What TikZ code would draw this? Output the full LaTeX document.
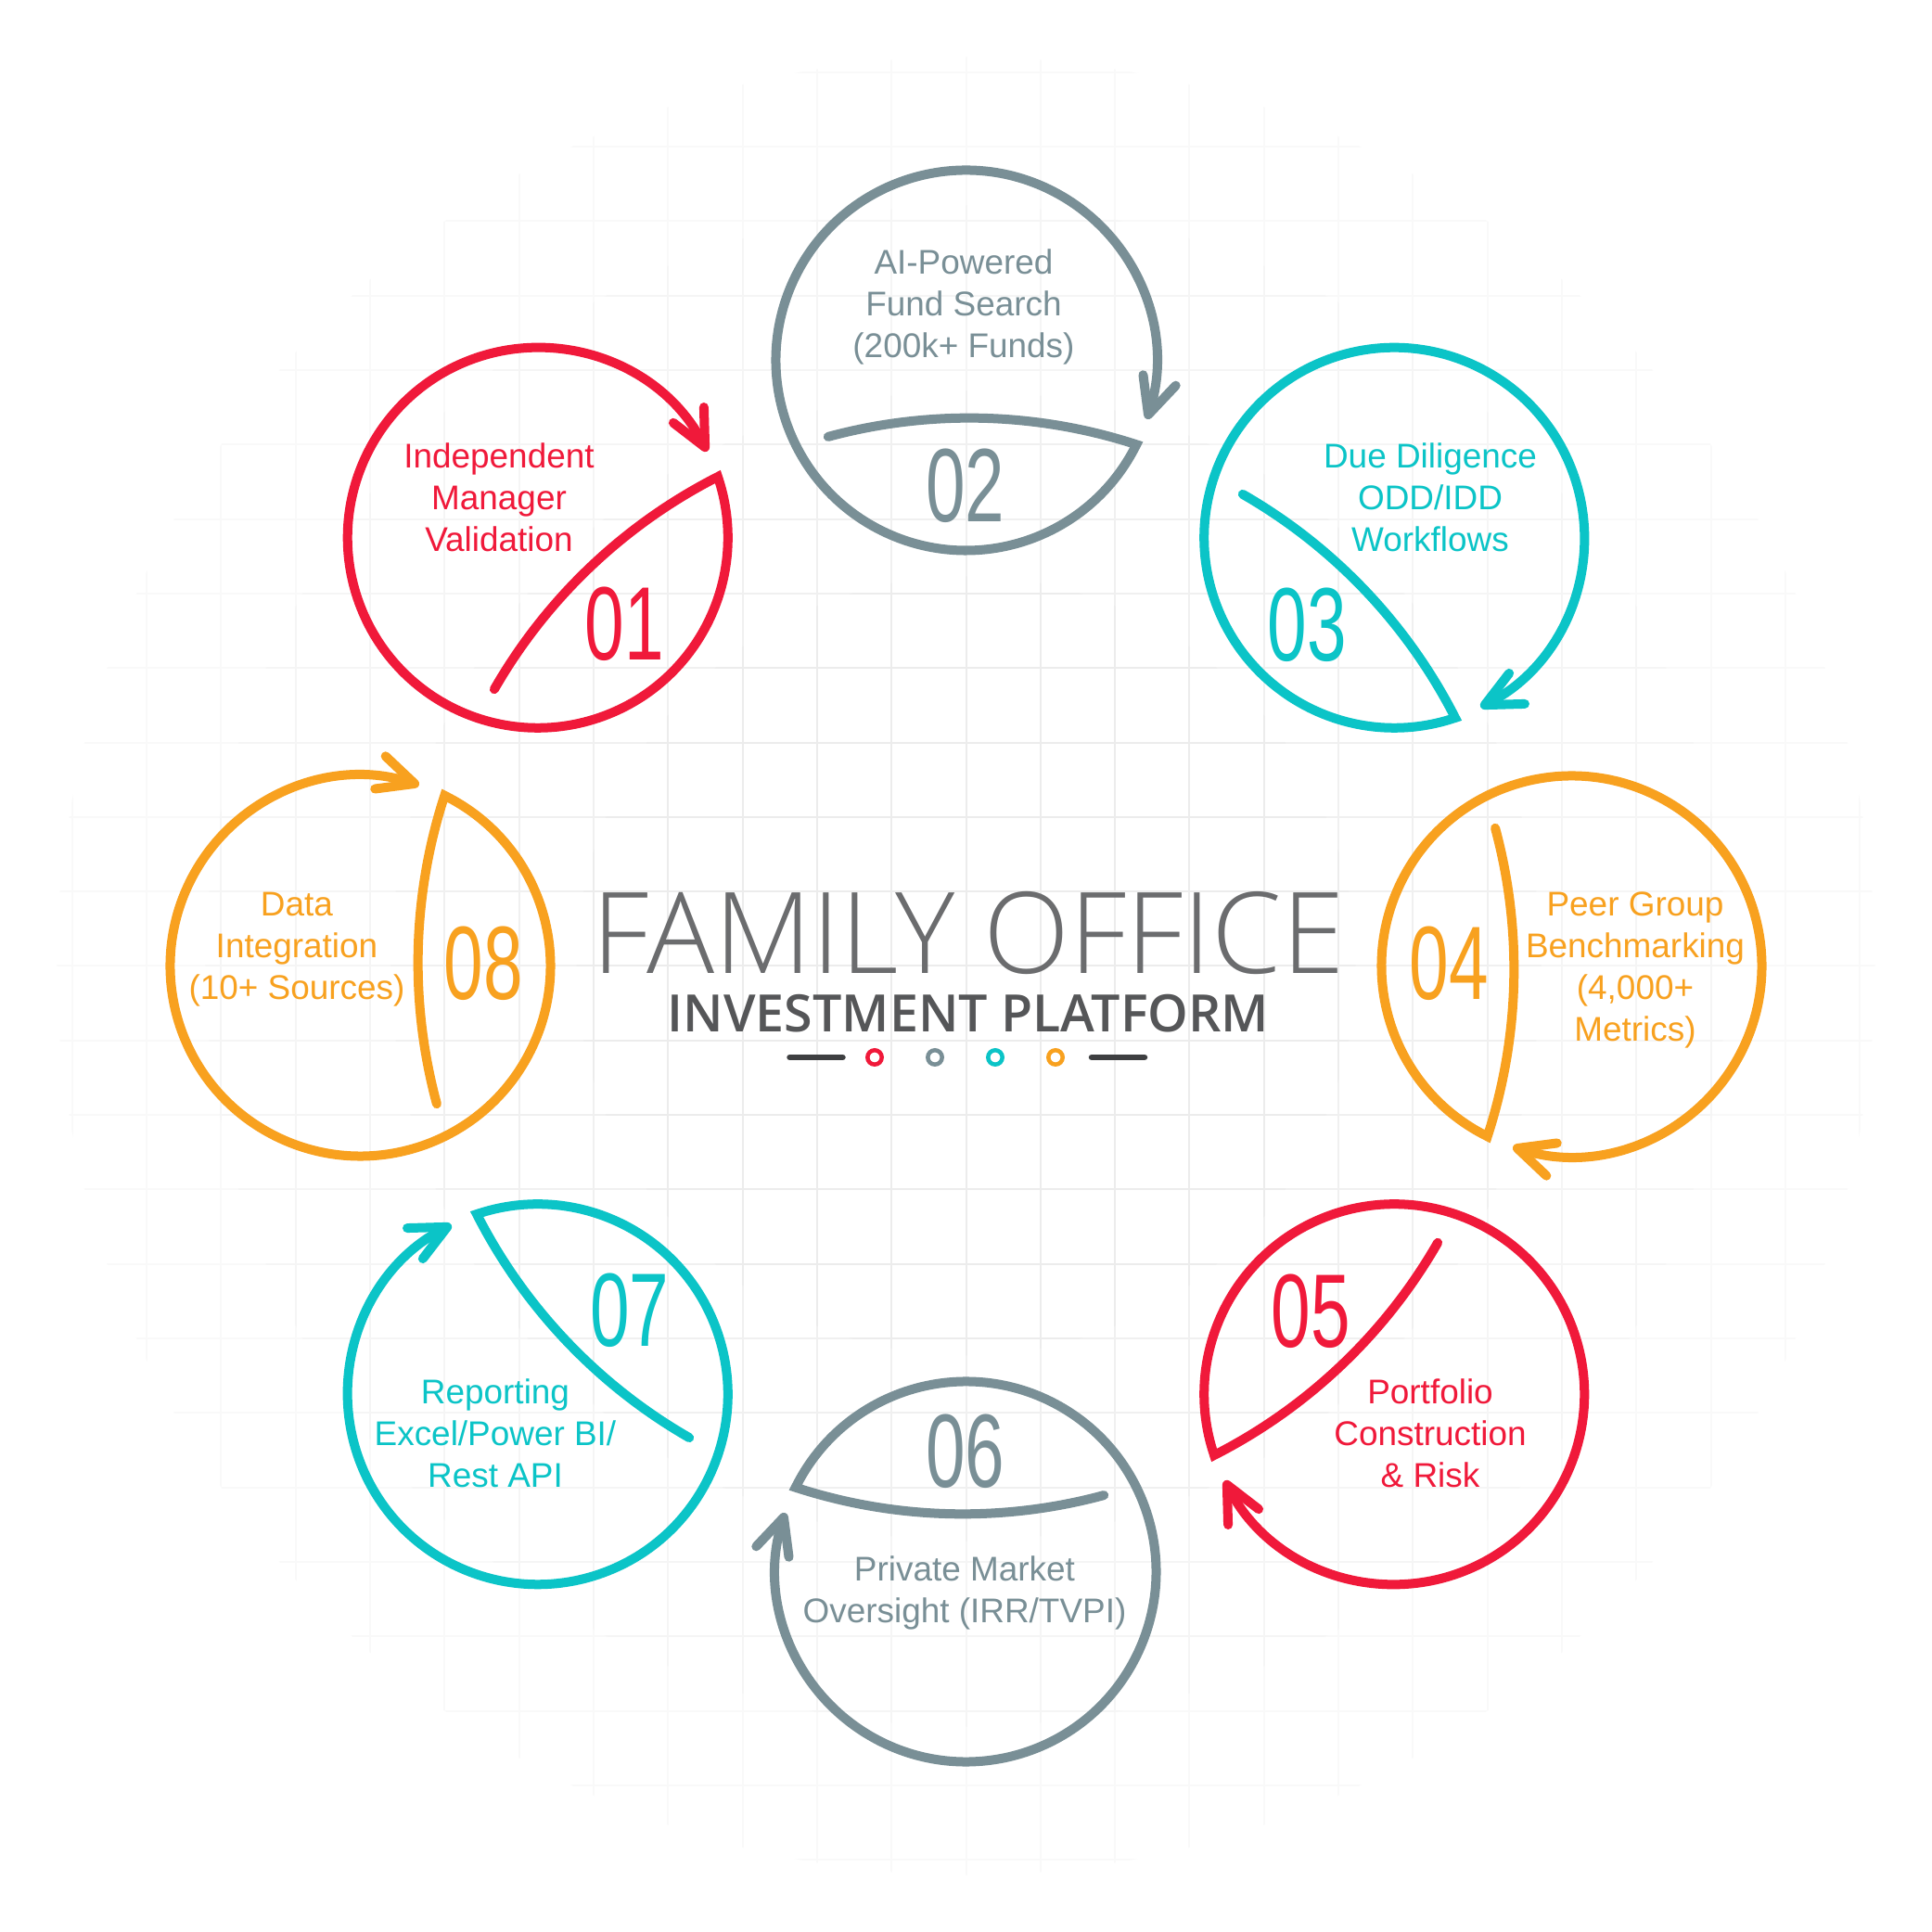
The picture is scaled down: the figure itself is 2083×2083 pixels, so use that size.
\documentclass[tikz,border=0pt]{standalone}
\usepackage{fontspec}
\usepackage{graphicx}
\setmainfont{Liberation Sans}
\IfFontExistsTF{Open Sans Light}
  {\newfontfamily\titlefont{Open Sans Light}}
  {\newfontfamily\titlefont{Open Sans}}
\IfFontExistsTF{Open Sans SemiBold}
  {\newfontfamily\subfont{Open Sans SemiBold}}
  {\IfFontExistsTF{Open Sans Semibold}
    {\newfontfamily\subfont{Open Sans Semibold}}
    {\newfontfamily\subfont[FakeBold=2,LetterSpace=2.5]{Open Sans}}}
\usetikzlibrary{arrows.meta}
\definecolor{cred}{HTML}{F0193A}
\definecolor{cgray}{HTML}{798F96}
\definecolor{ccyan}{HTML}{0BC4C7}
\definecolor{corange}{HTML}{F8A11F}
\definecolor{ctitle}{HTML}{6B6C6E}
\definecolor{csub}{HTML}{555658}
\definecolor{cdash}{HTML}{3E3F41}
\tikzset{
  glyph/.style={line width=0.1cm, line cap=round,
    -{Straight Barb[length=0.39cm, width=0.37cm, round]}},
  label/.style={align=center, inner sep=0pt, font=\fontsize{10.5}{12.8}\selectfont},
  numlabel/.style={inner sep=0pt, font=\fontsize{32}{32}\selectfont},
}
\begin{document}
\begin{tikzpicture}[x=0.01cm, y=0.01cm]
\useasboundingbox (-1041.5,-1041.5) rectangle (1041.5,1041.5);
\fill[white] (-1041.5,-1041.5) rectangle (1041.5,1041.5);
% faint background grid, fading outwards
\foreach \r/\c in {980/2.5, 820/4, 620/6, 420/7.5} {
  \begin{scope}
    \clip (0,0) circle (\r);
    \draw[black!\c, line width=0.02cm, step=80.3] (-1040,-1040) grid (1040,1040);
  \end{scope}
}
% circular arrows
\foreach \n/\t/\col in {1/135/cred, 2/90/cgray, 3/45/ccyan, 4/0/corange,
                        5/-45/cred, 6/-90/cgray, 7/-135/ccyan, 8/180/corange} {
  \pgfmathsetmacro{\ta}{\t+119}
  \pgfmathsetmacro{\tb}{\t-116.3}
  \coordinate (c\n) at (\t:653);
  \begin{scope}[shift={(c\n)}]
    \draw[glyph, draw=\col] (\ta:170) to[bend left=16.6, looseness=0.87] (\tb:205)
      arc[start angle=\tb, delta angle=-351.7, radius=205];
  \end{scope}
}
% labels
\node[label, text=cred]    (t1) at (-503.5, 505.5) {Independent\\Manager\\Validation};
\node[label, text=cgray]   (t2) at (-2.5, 710.7) {AI-Powered\\Fund Search\\(200k+ Funds)};
\node[label, text=ccyan]   (t3) at (500.5, 505.5) {Due Diligence\\ODD/IDD\\Workflows};
\node[label, text=corange] (t4) at (721.5, -4.5) {Peer Group\\Benchmarking\\(4,000+\\Metrics)};
\node[label, text=cred]    (t5) at (500.5, -503.5) {Portfolio\\Construction\\\& Risk};
\node[label, text=cgray]   (t6) at (-1.5, -676) {Private Market\\Oversight (IRR/TVPI)};
\node[label, text=ccyan]   (t7) at (-507.5, -503.5) {Reporting\\Excel/Power BI/\\Rest API};
\node[label, text=corange] (t8) at (-721.5, 17.5) {Data\\Integration\\(10+ Sources)};
% numbers
\node[numlabel, text=cred]    (n1) at (-368.2, 369)   {\scalebox{0.68}[1]{01}};
\node[numlabel, text=cgray]   (n2) at (-0.5, 517.5)   {\scalebox{0.68}[1]{02}};
\node[numlabel, text=ccyan]   (n3) at (367.5, 367.5)  {\scalebox{0.68}[1]{03}};
\node[numlabel, text=corange] (n4) at (520.5, 2.5)    {\scalebox{0.68}[1]{04}};
\node[numlabel, text=cred]    (n5) at (371.5, -372.5) {\scalebox{0.68}[1]{05}};
\node[numlabel, text=cgray]   (n6) at (-0.5, -523.5)  {\scalebox{0.68}[1]{06}};
\node[numlabel, text=ccyan]   (n7) at (-362.5, -371.5){\scalebox{0.68}[1]{07}};
\node[numlabel, text=corange] (n8) at (-520, 2.5)     {\scalebox{0.68}[1]{08}};
% title
\node[inner sep=0pt, text=ctitle, font=\titlefont\fontsize{34.6}{40}\selectfont] (title) at (2.7, 35.5) {FAMILY OFFICE};
\node[inner sep=0pt, text=csub, font=\subfont\fontsize{15.8}{18}\selectfont] (sub) at (2.5, -51.3) {INVESTMENT PLATFORM};
% decoration row
\coordinate (dl1) at (-190,-98.5); \coordinate (dl2) at (-133,-98.5);
\coordinate (dr1) at (135.5,-98.5); \coordinate (dr2) at (192.5,-98.5);
\draw[cdash, line width=0.065cm, line cap=round] (dl1) -- (dl2);
\draw[cdash, line width=0.065cm, line cap=round] (dr1) -- (dr2);
\foreach \x/\col in {-98.5/cred, -33.5/cgray, 31.5/ccyan, 96.5/corange}
  \draw[\col, line width=0.045cm] (\x,-98.5) circle (7.7);
\end{tikzpicture}
\end{document}
